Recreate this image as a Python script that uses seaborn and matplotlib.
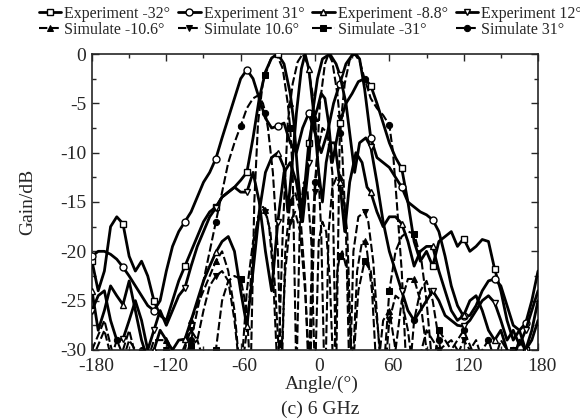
import numpy as np
import pandas as pd
import seaborn as sns
import matplotlib.pyplot as plt
from matplotlib.transforms import ScaledTranslation

sns.set_style("ticks")
plt.rcParams['font.family'] = ['Liberation Serif', 'DejaVu Serif']
plt.rcParams['axes.unicode_minus'] = False

exp_m32_ang = [-180, -175, -170, -165, -160, -155, -150, -145, -140, -135, -130, -125, -120, -115, -110, -105, -100, -95, -90, -85, -80, -75, -70, -65, -60, -55, -50, -45, -40, -35, -30, -25, -20, -17, -14, -11, -8, -5, -2, 2, 5, 8, 11, 14, 17, 20, 25, 30, 35, 40, 45, 50, 55, 60, 65, 70, 75, 80, 85, 90, 95, 100, 105, 110, 115, 120, 125, 130, 135, 140, 145, 150, 155, 160, 165, 170, 175, 180]
exp_m32_gain = [-21, -24, -22, -17.5, -16.5, -17.2, -20.5, -22, -21, -22.5, -25, -26.5, -27, -25, -23, -21.5, -20, -18.5, -17, -16, -15.5, -14.5, -14, -13.5, -12.8, -12, -8.5, -4.5, -1.8, -0.4, 0, -1, -4, -7, -12, -16, -13, -9, -7, -5.5, -4, -4.5, -7, -11, -9, -7, -5, -4, -2.8, -2.5, -3.2, -5, -7, -9, -10.5, -11.6, -15, -19, -21, -20, -21.5, -19, -18.5, -18, -19.5, -18.7, -20, -19.5, -18.8, -19, -21.8, -24, -27, -29, -28, -30, -29, -27]

exp_31_ang = [-180, -175, -170, -165, -160, -155, -150, -145, -140, -135, -130, -125, -120, -115, -110, -105, -100, -95, -90, -85, -80, -75, -70, -65, -60, -55, -50, -45, -40, -35, -30, -25, -20, -15, -10, -5, 0, 5, 10, 15, 20, 25, 30, 33, 36, 40, 45, 50, 55, 60, 65, 70, 75, 80, 85, 90, 95, 100, 105, 110, 115, 120, 125, 130, 135, 140, 145, 150, 155, 160, 165, 170, 175, 180]
exp_31_gain = [-20.5, -20, -20, -20.3, -20.8, -21.6, -22.5, -23.5, -24.5, -25.5, -26, -25, -22, -19.5, -18, -17, -16, -14.5, -13, -12, -10.6, -8.5, -6.5, -4.5, -2.5, -1.6, -2.5, -4.5, -6.5, -7.5, -7.3, -7, -9, -10, -7.5, -6, -8, -10, -8, -5, -3, -1, -0.1, 0, -0.5, -3.5, -8.5, -10.5, -11, -11.5, -12.5, -13.5, -15, -15.5, -16, -16.3, -16.8, -18, -20.5, -23.5, -25.5, -26.6, -26.5, -25.5, -24, -23, -22.8, -23.5, -25.5, -27.5, -28, -27.3, -25, -22]

exp_m8_ang = [-180, -175, -170, -165, -160, -155, -150, -145, -140, -135, -130, -125, -120, -115, -110, -105, -100, -95, -90, -85, -80, -75, -70, -65, -60, -55, -50, -45, -40, -35, -30, -25, -22, -19, -15, -11, -8, -5, -1, 3, 6, 9, 12, 16, 20, 24, 28, 33, 38, 42, 45, 50, 55, 60, 65, 70, 75, 80, 85, 90, 95, 100, 105, 110, 115, 120, 125, 130, 135, 140, 145, 150, 155, 160, 165, 170, 175, 180]
exp_m8_gain = [-24, -28, -26, -23.5, -24.5, -25.4, -23, -26, -29, -31, -30, -28, -29, -30, -29, -28.9, -27, -25, -23, -21.5, -20.1, -19, -18.5, -20, -24, -27.6, -22, -16, -12, -10.5, -10, -11.5, -16, -12, -6, -1.5, 0, -1.5, -6, -12, -15, -11, -9, -9, -13, -18, -13, -10, -11, -13.5, -14, -16, -17.5, -16.5, -16.5, -17.2, -19, -21.5, -20, -19.5, -19.5, -22, -24, -26, -27, -26.5, -25, -24.5, -26, -28, -29, -28, -30, -31, -29, -30, -28, -25]

exp_12_ang = [-180, -175, -170, -165, -160, -155, -150, -145, -140, -135, -130, -125, -120, -115, -110, -105, -100, -95, -90, -85, -80, -75, -70, -65, -60, -55, -50, -45, -40, -35, -30, -25, -20, -15, -10, -5, -2, 2, 6, 12, 17, 20, 25, 28, 32, 36, 41, 45, 50, 55, 60, 65, 70, 75, 80, 85, 90, 95, 100, 105, 110, 115, 120, 125, 130, 135, 140, 145, 150, 155, 160, 165, 170, 175, 180]
exp_12_gain = [-26, -24.5, -24, -27, -29, -28.9, -27, -25, -27, -30, -28, -26, -27.5, -26, -24.5, -23.7, -21.5, -19.5, -18, -16.5, -15.6, -14.5, -14, -13.5, -14, -14, -12, -15, -20, -24, -17, -12, -11, -13, -17, -11, -6, -2.5, -0.5, 0, -1, -2.1, -5, -8, -12, -9, -8.5, -9.4, -13, -17, -20, -22, -24, -26, -27, -26, -25, -24, -25, -26.5, -27, -27.5, -27.6, -27, -26, -25, -24.5, -25.2, -27, -29, -28, -29.5, -28, -26, -24]

sim_m10_ang = [-180, -170, -160, -150, -140, -130, -120, -110, -100, -90, -80, -75, -70, -65, -60, -55, -50, -46, -42, -40, -37, -34, -30, -26, -22, -20, -18, -14, -10, -6, -2, 0, 2, 5, 8, 11, 14, 18, 20, 22, 26, 30, 34, 38, 40, 42, 46, 50, 55, 60, 65, 70, 75, 80, 85, 90, 95, 100, 110, 120, 130, 140, 150, 160, 170, 180]
sim_m10_gain = [-30, -27, -32, -28, -33, -29, -29, -33, -27, -24, -21, -20, -22, -26, -33, -28, -20, -16.5, -15.5, -15.8, -17.5, -22, -33, -18, -7, -5, -3, -0.8, 0, -1, -4, -6.5, -10, -18, -35, -18, -13.5, -12.3, -12.5, -13.5, -18, -33, -22, -19, -19, -20, -24, -33, -27, -26, -30, -25, -22.8, -22.8, -25, -30, -34, -30, -29, -31, -29, -33, -30, -33, -31, -30]

sim_10_ang = [-180, -170, -160, -150, -140, -130, -120, -110, -100, -95, -90, -85, -80, -75, -70, -65, -60, -55, -50, -45, -40, -36, -32, -28, -24, -20, -16, -12, -8, -4, 0, 4, 8, 11, 14, 18, 20, 22, 25, 28, 31, 35, 40, 43, 47, 52, 56, 60, 65, 70, 75, 80, 90, 100, 110, 120, 130, 140, 150, 160, 170, 180]
sim_10_gain = [-31, -28, -33, -29, -31, -33, -30, -31, -28, -29, -26, -23.5, -22.5, -22, -23, -27, -33, -24, -19, -16.5, -16, -18, -24, -33, -22, -17, -16, -18, -24, -33, -14, -5, -1, 0, -0.8, -4, -6.5, -10, -18, -34, -20, -16.5, -16, -17, -21, -30, -33, -27, -24.5, -25, -28, -33, -28, -30, -32, -29, -31, -33, -29, -31, -33, -31]

sim_m31_ang = [-180, -170, -160, -150, -140, -130, -120, -110, -100, -95, -90, -85, -80, -75, -70, -65, -60, -55, -52, -49, -46, -42, -40, -36, -31, -26, -22, -20, -18, -15, -12, -9, -6, -3, 0, 3, 6, 9, 12, 15, 18, 20, 22, 26, 30, 35, 40, 45, 50, 55, 60, 65, 70, 75, 80, 86, 90, 95, 100, 110, 120, 130, 140, 150, 160, 170, 180]
sim_m31_gain = [-33, -30, -33, -31, -34, -30, -32, -33, -29.6, -29, -31, -34, -30, -25, -23, -22.5, -22.8, -26, -33, -15, -7, -2.8, -2.1, -0.6, 0, -1.5, -5, -7.5, -12, -33, -16, -13, -14, -19, -33, -19, -17, -18, -23, -33, -22, -20.5, -20, -22, -33, -24, -21, -22, -27, -33, -24, -20, -18.5, -18, -18.2, -21, -25, -32, -28, -30, -33, -30, -32, -33, -30, -32, -33]

sim_31_ang = [-180, -170, -160, -150, -140, -130, -120, -110, -100, -95, -90, -85, -80, -75, -70, -65, -60, -55, -50, -46, -42, -40, -38, -34, -30, -27, -24, -20, -16, -12, -8, -5, -2, 0, 2, 6, 10, 14, 17, 20, 24, 28, 32, 36, 40, 45, 50, 55, 60, 63, 66, 70, 73, 76, 80, 85, 90, 95, 100, 105, 110, 120, 130, 140, 150, 160, 170, 180]
sim_31_gain = [-31, -33, -29, -32, -30, -34, -30, -33, -29, -26, -23, -20, -17, -14, -11, -9, -7.3, -5.5, -4.5, -4.2, -5, -6, -7.5, -12, -20, -33, -20, -15, -14, -16, -23, -33, -18, -13, -10, -7.5, -8, -12, -33, -8, -3, -0.6, 0, -0.7, -2.5, -4.5, -5.5, -6.2, -7.2, -10, -15, -22, -30, -33, -27, -24, -23, -25, -29, -33, -30, -28, -31, -29, -33, -30, -32, -31]

exp_mark_ang = [-180, -155, -130, -105, -80, -55, -30, -5, 20, 45, 70, 95, 120, 145, 170]
sim_mark_ang = [-180, -160, -140, -120, -100, -80, -60, -40, -20, 0, 20, 40, 60, 80, 100, 120, 140, 160, 180]

series = [
    ("Experiment -32°", exp_m32_ang, exp_m32_gain, "s", "exp"),
    ("Simulate -10.6°", sim_m10_ang, sim_m10_gain, "^", "sim"),
    ("Experiment 31°", exp_31_ang, exp_31_gain, "o", "exp"),
    ("Simulate 10.6°", sim_10_ang, sim_10_gain, "v", "sim"),
    ("Experiment -8.8°", exp_m8_ang, exp_m8_gain, "^", "exp"),
    ("Simulate -31°", sim_m31_ang, sim_m31_gain, "s", "sim"),
    ("Experiment 12°", exp_12_ang, exp_12_gain, "v", "exp"),
    ("Simulate 31°", sim_31_ang, sim_31_gain, "o", "sim"),
]

fig = plt.figure(figsize=(5.8, 4.18), dpi=100)
ax = fig.add_axes([0.1586, 0.1627, 0.7690, 0.7081])

for label, ang, gain, mk, kind in series:
    ang = np.array(ang)
    if kind == "exp":
        idx = list(np.where(np.isin(ang, exp_mark_ang))[0])
        sns.lineplot(x=ang, y=gain, ax=ax, color="black", lw=2.0, marker=mk,
                     markersize=5, markerfacecolor="white", markeredgecolor="black",
                     markeredgewidth=1.0, markevery=idx, label=label, zorder=3,
                     errorbar=None)
    else:
        idx = list(np.where(np.isin(ang, sim_mark_ang))[0])
        sns.lineplot(x=ang, y=gain, ax=ax, color="black", lw=1.5, marker=mk,
                     markersize=4.5, markerfacecolor="black", markeredgecolor="black",
                     linestyle=(0, (4, 1.5)), markevery=idx, label=label, zorder=2,
                     errorbar=None)

ax.set_xlim(-180, 180)
ax.set_ylim(-30, 0)
ax.set_xticks(np.arange(-180, 181, 60))
ax.set_xticks(np.arange(-180, 181, 30), minor=True)
ax.set_yticks(np.arange(-30, 1, 5))
ax.set_yticks(np.arange(-30, 1, 2.5), minor=True)
ax.tick_params(which="both", direction="in", top=True, right=True, labelsize=14, width=1)
ax.tick_params(which="major", length=5)
ax.tick_params(which="minor", length=3)
ax.tick_params(axis="x", pad=6)
ax.tick_params(axis="y", pad=4)
for s in ax.spines.values():
    s.set_linewidth(1.2)
# x tick labels sit a few pixels right of their ticks in the original
shift = ScaledTranslation(4 / 100, 0, fig.dpi_scale_trans)
for t in ax.get_xticklabels():
    t.set_transform(t.get_transform() + shift)

ax.set_xlabel("Angle/(°)", fontsize=14, labelpad=0)
ax.xaxis.set_label_coords((322 - 92) / 446, -0.088)
ax.set_ylabel("Gain/dB", fontsize=14, labelpad=2)
ax.yaxis.set_label_coords((36 - 92) / 446, 0.5)
fig.text(320 / 580, 1 - 409 / 418, "(c) 6 GHz", fontsize=14, ha="center", va="center")

handles, labels = ax.get_legend_handles_labels()
ax.legend(handles, labels, ncol=4, loc="upper left", bbox_to_anchor=(37 / 580, 1 - 4 / 418),
          bbox_transform=fig.transFigure, frameon=False, fontsize=11.5,
          handlelength=1.4, handletextpad=0.2, columnspacing=0.5, labelspacing=0.0,
          borderaxespad=0.0, borderpad=0.1)

fig.savefig("out.png", dpi=100)
